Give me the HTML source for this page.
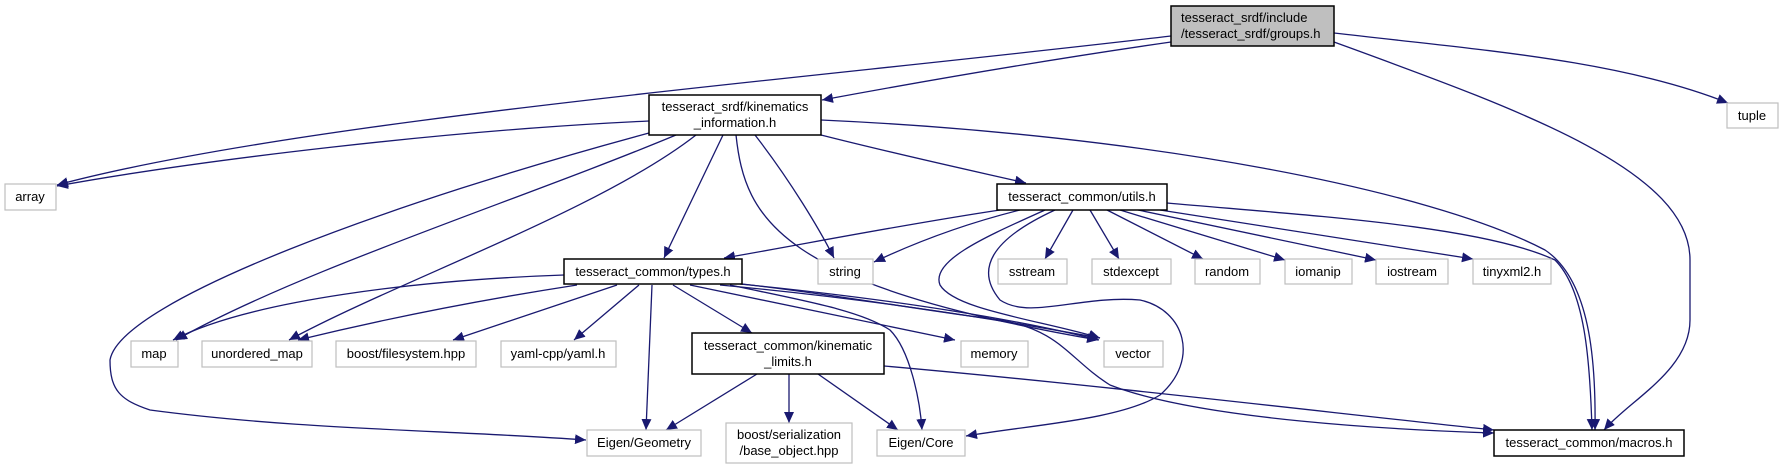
<!DOCTYPE html>
<html><head><meta charset="utf-8"><style>
html,body{margin:0;padding:0;background:#fff;}
svg{display:block;}
text{font-family:"Liberation Sans",Arial,sans-serif;font-size:13px;fill:#000;}
.e{fill:none;stroke:#191970;stroke-width:1.3;}
.n{fill:#fff;stroke:#000;stroke-width:1.5;}
.g{fill:#fff;stroke:#bfbfbf;stroke-width:1.2;}
</style></head><body>
<svg width="1784" height="469" viewBox="0 0 1784 469" xmlns="http://www.w3.org/2000/svg">
<defs>
<marker id="a" markerUnits="userSpaceOnUse" markerWidth="12" markerHeight="10" refX="11" refY="5" orient="auto">
<path d="M0,0 L11,5 L0,10 Z" fill="#191970"/>
</marker>
</defs>
<g marker-end="url(#a)">
<path class="e" d="M1171,36 C800,80 300,120 57,185"/>
<path class="e" d="M1171,42 C1060,58 930,80 822,100"/>
<path class="e" d="M1334,33 C1480,50 1620,60 1728,103"/>
<path class="e" d="M1334,42 C1520,110 1690,170 1690,260 L1690,320 C1690,370 1630,400 1604,430"/>
<path class="e" d="M649,121 C450,130 200,160 57,186"/>
<path class="e" d="M676,135 C520,200 300,270 176,340"/>
<path class="e" d="M696,135 C600,210 400,280 289,340"/>
<path class="e" d="M649,133 C400,200 120,300 110,360 C110,390 120,400 150,410 C300,430 450,430 586,440"/>
<path class="e" d="M723,135 L664,258"/>
<path class="e" d="M736,135 C745,220 780,285 1098,340"/>
<path class="e" d="M755,135 C790,180 820,230 834,258"/>
<path class="e" d="M821,135 C900,155 960,168 1026,183"/>
<path class="e" d="M821,120 C1150,135 1430,190 1545,250 C1590,280 1596,360 1595,430"/>
<path class="e" d="M1000,210 C900,225 800,245 724,258"/>
<path class="e" d="M1020,210 C960,225 910,245 874,262"/>
<path class="e" d="M1045,210 C990,235 930,260 940,285 C955,310 1040,320 1100,338"/>
<path class="e" d="M1055,210 C990,240 975,270 1000,300 C1030,320 1080,295 1140,300 C1185,310 1200,360 1160,395 C1120,420 1030,425 966,436"/>
<path class="e" d="M1073,210 L1045,259"/>
<path class="e" d="M1090,210 L1119,259"/>
<path class="e" d="M1107,210 L1203,259"/>
<path class="e" d="M1120,210 L1285,260"/>
<path class="e" d="M1138,210 L1376,260"/>
<path class="e" d="M1160,210 L1473,259"/>
<path class="e" d="M1167,203 C1300,215 1480,225 1555,260 C1585,290 1590,360 1592,430"/>
<path class="e" d="M564,275 C420,280 250,300 173,340"/>
<path class="e" d="M577,285 C480,300 380,320 298,340"/>
<path class="e" d="M617,285 L453,340"/>
<path class="e" d="M639,285 L574,340"/>
<path class="e" d="M652,285 L646,430"/>
<path class="e" d="M673,285 L752,333"/>
<path class="e" d="M690,285 L955,340"/>
<path class="e" d="M720,285 C880,300 1000,320 1100,338"/>
<path class="e" d="M740,284 C900,300 1020,320 1099,340"/>
<path class="e" d="M730,285 C800,300 860,310 890,330 C910,350 920,400 922,430"/>
<path class="e" d="M742,284 C840,295 920,310 1000,320 C1060,330 1070,360 1110,385 C1200,420 1400,430 1494,433"/>
<path class="e" d="M757,374 L666,430"/>
<path class="e" d="M789,374 L789,423"/>
<path class="e" d="M818,374 L898,430"/>
<path class="e" d="M884,366 C1100,385 1350,415 1494,430"/>
</g>
<rect x="1171" y="6" width="163" height="40" fill="#bfbfbf" stroke="#000" stroke-width="1.5"/>
<text x="1181" y="22">tesseract_srdf/include</text>
<text x="1181" y="38">/tesseract_srdf/groups.h</text>

<rect class="n" x="649" y="95" width="172" height="40"/>
<text x="735" y="111" text-anchor="middle">tesseract_srdf/kinematics</text>
<text x="735" y="127" text-anchor="middle">_information.h</text>

<rect class="g" x="1727" y="103" width="51" height="25"/><text x="1752" y="120" text-anchor="middle">tuple</text>
<rect class="g" x="5" y="184" width="51" height="26"/><text x="30" y="201" text-anchor="middle">array</text>

<rect class="n" x="997" y="184" width="170" height="26"/><text x="1082" y="201" text-anchor="middle">tesseract_common/utils.h</text>
<rect class="n" x="564" y="259" width="178" height="25"/><text x="653" y="276" text-anchor="middle">tesseract_common/types.h</text>

<rect class="g" x="818" y="259" width="55" height="25"/><text x="845" y="276" text-anchor="middle">string</text>
<rect class="g" x="998" y="259" width="69" height="25"/><text x="1032" y="276" text-anchor="middle">sstream</text>
<rect class="g" x="1092" y="259" width="79" height="25"/><text x="1131" y="276" text-anchor="middle">stdexcept</text>
<rect class="g" x="1195" y="259" width="65" height="25"/><text x="1227" y="276" text-anchor="middle">random</text>
<rect class="g" x="1285" y="259" width="67" height="25"/><text x="1318" y="276" text-anchor="middle">iomanip</text>
<rect class="g" x="1376" y="259" width="72" height="25"/><text x="1412" y="276" text-anchor="middle">iostream</text>
<rect class="g" x="1473" y="259" width="78" height="25"/><text x="1512" y="276" text-anchor="middle">tinyxml2.h</text>

<rect class="g" x="131" y="341" width="47" height="26"/><text x="154" y="358" text-anchor="middle">map</text>
<rect class="g" x="202" y="341" width="110" height="26"/><text x="257" y="358" text-anchor="middle">unordered_map</text>
<rect class="g" x="336" y="341" width="140" height="26"/><text x="406" y="358" text-anchor="middle">boost/filesystem.hpp</text>
<rect class="g" x="501" y="341" width="115" height="26"/><text x="558" y="358" text-anchor="middle">yaml-cpp/yaml.h</text>
<rect class="n" x="692" y="333" width="192" height="41"/>
<text x="788" y="350" text-anchor="middle">tesseract_common/kinematic</text>
<text x="788" y="366" text-anchor="middle">_limits.h</text>
<rect class="g" x="961" y="341" width="67" height="26"/><text x="994" y="358" text-anchor="middle">memory</text>
<rect class="g" x="1104" y="341" width="59" height="26"/><text x="1133" y="358" text-anchor="middle">vector</text>

<rect class="g" x="587" y="430" width="114" height="26"/><text x="644" y="447" text-anchor="middle">Eigen/Geometry</text>
<rect class="g" x="726" y="423" width="126" height="40"/>
<text x="789" y="439" text-anchor="middle">boost/serialization</text>
<text x="789" y="455" text-anchor="middle">/base_object.hpp</text>
<rect class="g" x="877" y="430" width="88" height="26"/><text x="921" y="447" text-anchor="middle">Eigen/Core</text>
<rect class="n" x="1494" y="430" width="190" height="26"/><text x="1589" y="447" text-anchor="middle">tesseract_common/macros.h</text>
</svg>
</body></html>
